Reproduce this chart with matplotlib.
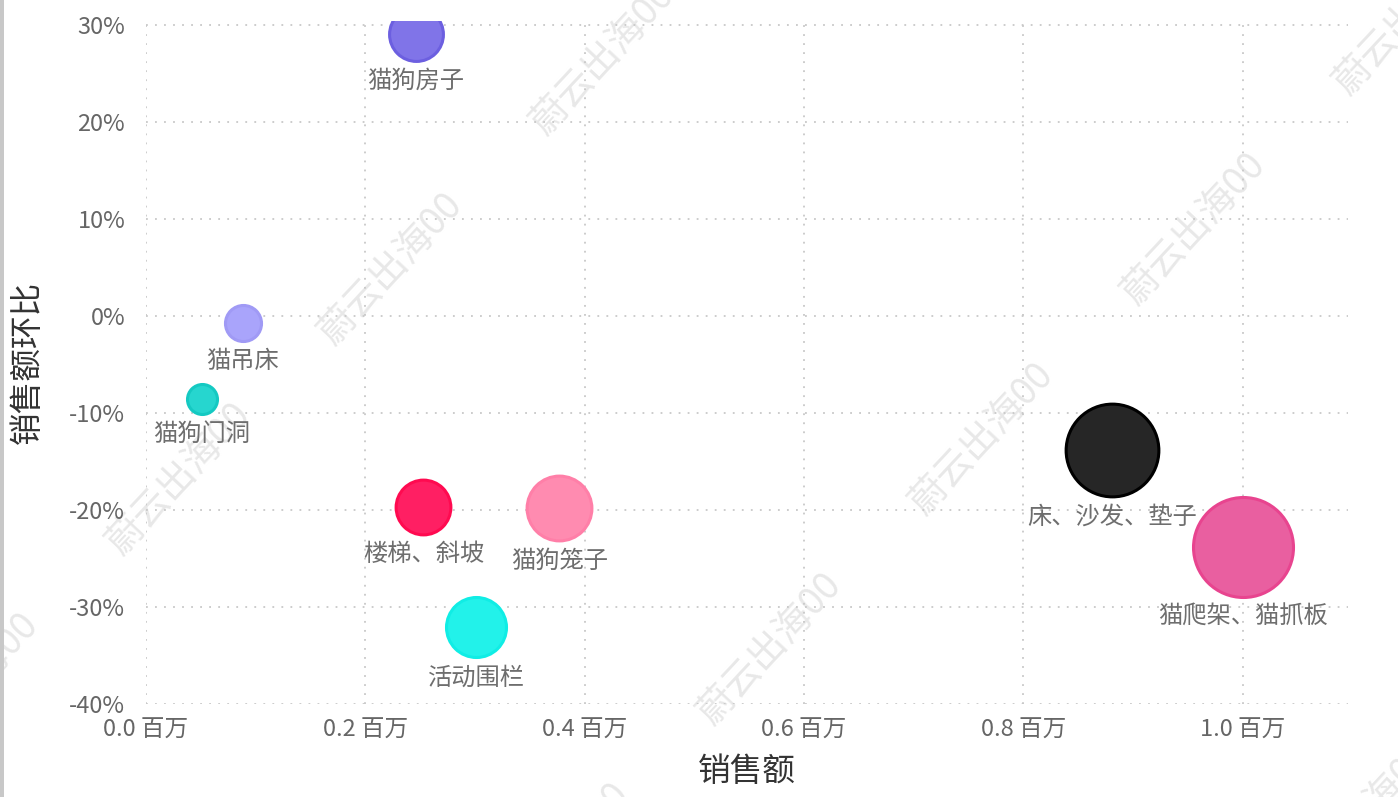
import matplotlib
matplotlib.use("Agg")
import matplotlib.pyplot as plt
from matplotlib.patches import Rectangle
import numpy as np

plt.rcParams["font.family"] = ["Noto Sans CJK SC", "DejaVu Sans"]

# ── data ───────────────────────────────────────────────────────────────────
products   = ["猫狗房子", "猫吊床", "猫狗门洞", "楼梯、斜坡", "猫狗笼子",
              "活动围栏", "床、沙发、垫子", "猫爬架、猫抓板"]
sales_m    = [0.246, 0.088, 0.051, 0.253, 0.377, 0.301, 0.881, 1.000]   # 百万
mom_pct    = [29.1, -0.7, -8.6, -19.7, -19.8, -32.1, -13.8, -23.8]     # 销售额环比 %
bubble_val = [29, 13, 9, 30, 42, 36, 86, 100]                          # bubble size measure
x_ticks    = [0.0, 0.2, 0.4, 0.6, 0.8, 1.0]
y_ticks    = [-40, -30, -20, -10, 0, 10, 20, 30]

# ── colours ────────────────────────────────────────────────────────────────
C_FACE = ["#8074E8", "#A9A4FB", "#26D6CF", "#FF1F63", "#FF8BB0",
          "#22F2EA", "#262626", "#E95FA0"]
C_EDGE = ["#6C5FE0", "#A09AF5", "#14C9C2", "#FF0A50", "#FF7FA8",
          "#10EDE5", "#000000", "#E8448F"]
C_GRID  = "#C8C8C8"
C_TICK  = "#666666"
C_LABEL = "#6E6E6E"
C_TITLE = "#333333"
C_WM    = "#E8E8E8"

W, H, DPI = 1398, 797, 100
fig = plt.figure(figsize=(W / DPI, H / DPI), dpi=DPI)

# ── watermark (sits under the chart) ───────────────────────────────────────
base = np.array([122, 556])
va_ = np.array([803, -40])
vb_ = np.array([212, -210])
for i, j in [(0, 0), (0, 1), (0, 2), (1, 1), (1, 2), (1, -1), (1, 0),
             (0, -1), (1, -2), (2, -2)]:
    px, py = base + i * va_ + j * vb_
    fig.text(px / W, 1 - py / H, "蔚云出海00", fontsize=27, color=C_WM,
             rotation=47, rotation_mode="anchor", ha="left", va="baseline",
             zorder=-5)

# axes placed in pixel terms
ax_l, ax_r, ax_t, ax_b = 146, 1348, 21, 704
ax = fig.add_axes([ax_l / W, 1 - ax_b / H, (ax_r - ax_l) / W, (ax_b - ax_t) / H])
ax.patch.set_alpha(0)
ax.set_xlim(0, 1.096)
ax.set_ylim(-40, 30.41)

for s in ax.spines.values():
    s.set_visible(False)

ax.set_xticks(x_ticks)
ax.set_xticklabels([f"{v:.1f} 百万" for v in x_ticks])
ax.set_yticks(y_ticks)
ax.set_yticklabels([f"{v}%" for v in y_ticks])
ax.tick_params(axis="both", length=0, labelsize=17, colors=C_TICK)
ax.tick_params(axis="y", pad=15)
ax.tick_params(axis="x", pad=11)
ax.grid(True, color=C_GRID, linestyle=(0, (1, 4)), linewidth=1.3)
ax.set_axisbelow(True)

ax.set_xlabel("销售额", fontsize=23.5, color=C_TITLE, labelpad=10)
ax.set_ylabel("销售额环比", fontsize=23.5, color=C_TITLE, labelpad=18)

# ── bubbles ────────────────────────────────────────────────────────────────
px2pt = 72 / DPI
radii_px = [50 * np.sqrt(v / 100) for v in bubble_val]
for name, x, y, r, fc, ec in zip(products, sales_m, mom_pct, radii_px, C_FACE, C_EDGE):
    ax.scatter([x], [y], s=(2 * r * px2pt) ** 2, color=fc, edgecolor=ec,
               linewidth=2.2, zorder=3)
    ax.annotate(name, (x, y), xytext=(0, -(r + 20) * px2pt),
                textcoords="offset points", ha="center", va="center",
                fontsize=17.5, color=C_LABEL, zorder=4, annotation_clip=False)

# left border strip
fig.patches.append(Rectangle((0, 0), 4 / W, 1, transform=fig.transFigure,
                             facecolor="#C8C8C8", edgecolor="none"))

fig.savefig("out.png", dpi=DPI)
